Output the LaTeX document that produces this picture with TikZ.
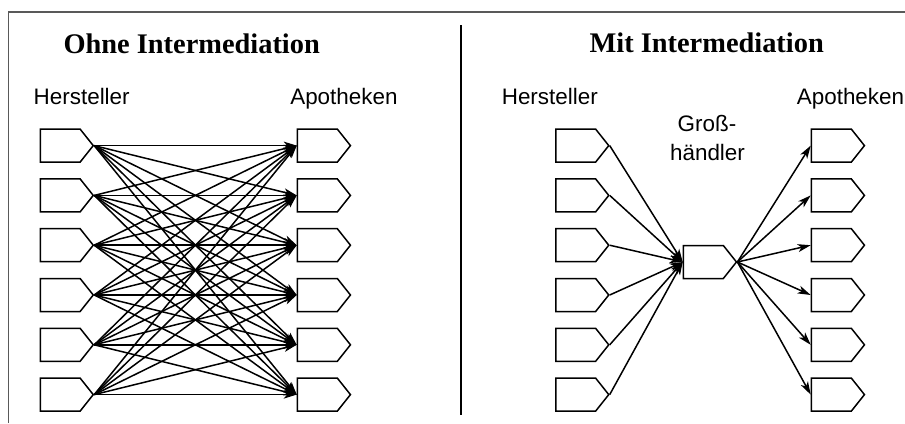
\documentclass[tikz,border=0pt]{standalone}
\usepackage{fontspec}
\setmainfont{Liberation Serif}
\setsansfont{Liberation Sans}
\usetikzlibrary{shapes.symbols,arrows.meta}
\begin{document}
\begin{tikzpicture}[x=1bp,y=-1bp,
  box/.style={signal, signal to=east, draw, line width=1.5bp, minimum width=53bp,
    minimum height=33bp, inner sep=0pt, anchor=west, signal pointer angle=103},
  arr/.style={line width=1.5bp, -{Stealth[length=13bp,width=8bp,inset=3.5bp]}},
  title/.style={font=\fontsize{28.5}{30}\selectfont\bfseries, anchor=base},
  lab/.style={font=\fontsize{22.5}{26}\selectfont\sffamily, anchor=base},
  frame/.style={draw=black!65, line width=1.5bp}]
\useasboundingbox (0,0) rectangle (905,423);
% frame
\coordinate (fl) at (8.5,423);
\coordinate (ftl) at (8.5,12);
\coordinate (ftr) at (905,12);
\draw[frame] (fl) -- (ftl) -- (ftr);
\coordinate (dtop) at (461,25);
\coordinate (dbot) at (461,415);
\draw[line width=1.6bp] (dtop) -- (dbot);
% titles and labels
\node[title] (t1) at (191.7,53.3) {Ohne Intermediation};
\node[title] (t2) at (706.7,52.3) {Mit Intermediation};
\node[lab] (l1) at (81.7,104) {Hersteller};
\node[lab] (l2) at (343.9,104) {Apotheken};
\node[lab] (l3) at (549.8,104) {Hersteller};
\node[lab] (l4) at (850.5,104) {Apotheken};
\node[lab] (g1) at (707,131.7) {Groß-};
\node[lab] (g2) at (707.5,160) {händler};
% boxes
\foreach \k in {1,...,6}{
  \pgfmathsetmacro{\yy}{145.6+49.8*(\k-1)}
  \node[box] (h\k) at (39.5,\yy) {};
  \node[box] (a\k) at (296.7,\yy) {};
  \node[box] (H\k) at (555,\yy) {};
  \node[box] (A\k) at (810.7,\yy) {};
}
\node[box] (w) at (682.7,262) {};
% arrows
\foreach \i in {1,...,6}{
  \foreach \j in {1,...,6}{
    \draw[arr] (h\i.east) -- (a\j.west);
  }
  \draw[arr] (H\i.east) -- (w.west);
  \draw[arr] (w.east) -- (A\i.west);
}
\end{tikzpicture}
\end{document}
